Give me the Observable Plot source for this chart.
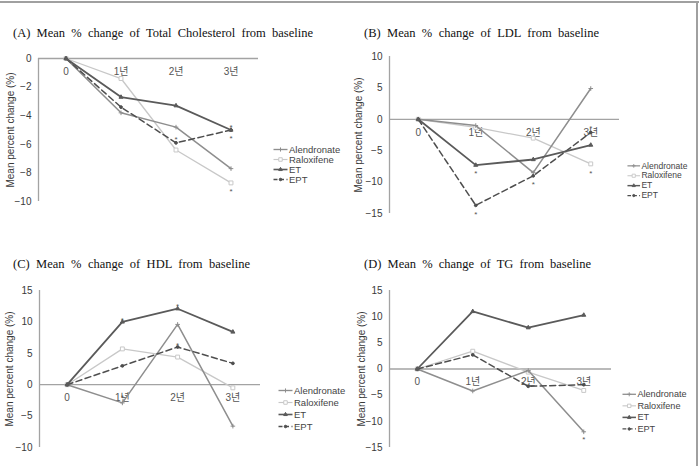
<!DOCTYPE html>
<html>
<head>
<meta charset="utf-8">
<script src="https://cdn.jsdelivr.net/npm/d3@7"></script>
<script src="https://cdn.jsdelivr.net/npm/@observablehq/plot@0.6"></script>
<style>
  body { margin: 0; background: #fff; }
  #fig { position: relative; width: 699px; height: 466px; overflow: hidden; background: #fff;
         font-family: "Liberation Sans", Arial, "Noto Sans CJK KR", sans-serif; }
  .edge-top { position: absolute; left: 0; top: 1px; width: 699px; height: 2px; background: #a0a0a0; }
  .edge-right { position: absolute; left: 696px; top: 1px; width: 2px; height: 465px; background: #a0a0a0; }
  .title { position: absolute; font-family: "Liberation Serif", "Times New Roman", serif; font-size: 12.5px;
           line-height: 13px; color: #111; white-space: nowrap; }
  .box { position: absolute; }
  .box svg { overflow: visible; }
</style>
</head>
<body>
<div id="fig"><div class="edge-top"></div><div class="edge-right"></div></div>
<script>
// Time points and their tick labels
const years = [0, 1, 2, 3];
const yearLabels = ["0", "1년", "2년", "3년"];
const groups = ["Alendronate", "Raloxifene", "ET", "EPT"];

// (A) Total cholesterol, mean % change from baseline
const tcAlendronate = [0, -3.8, -4.8, -7.7];
const tcRaloxifene  = [0, -1.4, -6.4, -8.7];
const tcET          = [0, -2.7, -3.3, -5.0];
const tcEPT         = [0, -3.4, -5.9, -5.0];
const tcStarYear    = [2, 3, 3, 3];
const tcStarValue   = [-5.55, -4.7, -5.45, -9.15];
const tcTicks       = [0, -2, -4, -6, -8, -10];

// (B) LDL
const ldlAlendronate = [0, -1.0, -8.5, 4.9];
const ldlRaloxifene  = [0, -1.3, -3.0, -7.1];
const ldlET          = [0, -7.3, -6.4, -4.1];
const ldlEPT         = [0, -13.7, -9.0, -2.1];
const ldlStarYear    = [1, 1, 2, 3, 3];
const ldlStarValue   = [-8.3, -14.8, -10.1, -8.3, -1.2];
const ldlTicks       = [10, 5, 0, -5, -10, -15];

// (C) HDL
const hdlAlendronate = [0, -2.9, 9.6, -6.6];
const hdlRaloxifene  = [0, 5.7, 4.4, -0.5];
const hdlET          = [0, 10.0, 12.1, 8.4];
const hdlEPT         = [0, 3.0, 6.0, 3.4];
const hdlStarYear    = [1, 2, 2, 1];
const hdlStarValue   = [10.6, 12.8, 6.6, -1.7];
const hdlTicks       = [15, 10, 5, 0, -5, -10];

// (D) Triglycerides
const tgAlendronate = [0, -4.2, -0.3, -12.0];
const tgRaloxifene  = [0, 3.4, -0.6, -4.1];
const tgET          = [0, 11.0, 7.9, 10.3];
const tgEPT         = [0, 2.7, -3.3, -3.0];
const tgStarYear    = [3];
const tgStarValue   = [-13.1];
const tgTicks       = [15, 10, 5, 0, -5, -10, -15];

// Line / marker styling per group
const styles = {
  Alendronate: {stroke: "#8e8e8e", width: 1.5, dash: null, symbol: "plus", fill: "none", r: 1.6},
  Raloxifene:  {stroke: "#c8c8c8", width: 1.3, dash: null, symbol: "square", fill: "#fff", r: 2.2},
  ET:          {stroke: "#5a5a5a", width: 1.8, dash: null, symbol: "triangle", fill: "#5a5a5a", r: 1.5},
  EPT:         {stroke: "#4e4e4e", width: 1.5, dash: "6,3.5", symbol: "circle", fill: "#4e4e4e", r: 1.4}
};
const drawOrder = ["Raloxifene", "Alendronate", "EPT", "ET"];

const panels = [
  {title: "(A) Mean % change of Total Cholesterol from baseline", tLeft: 13, tTop: 27, tWidth: 300,
   series: [tcAlendronate, tcRaloxifene, tcET, tcEPT], starYear: tcStarYear, starValue: tcStarValue,
   ticks: tcTicks, domain: [-10, 0],
   left: 0, top: 48, width: 262, height: 159, mLeft: 38, mTop: 10, mBottom: 6, labelOffset: 32,
   legLeft: 273, legFirst: 148.3, legGap: 10.6},
  {title: "(B) Mean % change of LDL from baseline", tLeft: 364, tTop: 27, tWidth: 235,
   series: [ldlAlendronate, ldlRaloxifene, ldlET, ldlEPT], starYear: ldlStarYear, starValue: ldlStarValue,
   ticks: ldlTicks, domain: [-15, 10],
   left: 349, top: 46, width: 274, height: 173, mLeft: 40, mTop: 10, mBottom: 6, labelOffset: 35,
   legLeft: 627, legFirst: 165, legGap: 11.9},
  {title: "(C) Mean % change of HDL from baseline", tLeft: 13, tTop: 258, tWidth: 237,
   series: [hdlAlendronate, hdlRaloxifene, hdlET, hdlEPT], starYear: hdlStarYear, starValue: hdlStarValue,
   ticks: hdlTicks, domain: [-10, 15],
   left: 0, top: 280, width: 264, height: 173, mLeft: 39, mTop: 10, mBottom: 6, labelOffset: 34,
   legLeft: 278, legFirst: 390, legGap: 12},
  {title: "(D) Mean % change of TG from baseline", tLeft: 364, tTop: 258, tWidth: 227,
   series: [tgAlendronate, tgRaloxifene, tgET, tgEPT], starYear: tgStarYear, starValue: tgStarValue,
   ticks: tgTicks, domain: [-15, 15],
   left: 349, top: 280, width: 266, height: 173, mLeft: 40, mTop: 10, mBottom: 6, labelOffset: 32,
   legLeft: 622, legFirst: 393.7, legGap: 12.1}
];

const fig = document.getElementById("fig");

function place(node, left, top) {
  const box = document.createElement("div");
  box.className = "box";
  box.style.left = left + "px";
  box.style.top = top + "px";
  box.appendChild(node);
  fig.appendChild(box);
  return box;
}

function addTitle(p) {
  const d = document.createElement("div");
  d.className = "title";
  d.textContent = p.title;
  d.style.left = p.tLeft + "px";
  d.style.top = p.tTop + "px";
  fig.appendChild(d);
  // spread words across the title's line width
  const natural = d.getBoundingClientRect().width;
  const spaces = (p.title.match(/ /g) || []).length;
  d.style.wordSpacing = Math.max(0, (p.tWidth - natural) / spaces) + "px";
}

function chart(p) {
  const rows = [];
  groups.forEach((g, gi) => p.series[gi].forEach((v, t) => rows.push({g, t: years[t], v})));
  const stars = p.starYear.map((t, i) => ({t, v: p.starValue[i]}));
  const marks = [
    Plot.ruleY([0], {stroke: "#a3a3a3", strokeWidth: 1.3}),
    Plot.ruleX([-0.5], {stroke: "#a3a3a3", strokeWidth: 1.3}),
    Plot.axisY({ticks: p.ticks, tickSize: 0, tickPadding: 7, fontSize: 10, fill: "#3a3a3a",
                label: "Mean percent change (%)", labelAnchor: "center", labelArrow: "none",
                labelOffset: p.labelOffset}),
    Plot.text(years, {x: d => d, y: () => 0, text: (d, i) => yearLabels[i], dy: 13,
                      fontSize: 10, fill: "#555",
                      fontFamily: "'Liberation Sans', 'Noto Sans CJK KR', sans-serif"})
  ];
  for (const g of drawOrder) {
    const s = styles[g];
    const data = rows.filter(r => r.g === g);
    marks.push(Plot.line(data, {x: "t", y: "v", stroke: s.stroke, strokeWidth: s.width,
                                strokeDasharray: s.dash}));
    marks.push(Plot.dot(data, {x: "t", y: "v", symbol: () => s.symbol, r: s.r, stroke: s.stroke,
                               fill: s.fill, strokeWidth: 1}));
  }
  marks.push(Plot.text(stars, {x: "t", y: "v", text: () => "*", fontSize: 8, fill: "#555", dy: 2}));
  return Plot.plot({
    width: p.width, height: p.height,
    marginLeft: p.mLeft, marginRight: 4, marginTop: p.mTop, marginBottom: p.mBottom,
    x: {domain: [-0.5, 3.5], axis: null},
    y: {domain: p.domain, axis: null},
    symbol: {type: "identity"},
    style: {fontFamily: "'Liberation Sans', Arial, sans-serif", fontSize: "10px", background: "none"},
    marks
  });
}

function legend(p) {
  const marks = [];
  for (const g of groups) {
    const s = styles[g];
    marks.push(Plot.link([g], {x1: () => 0, x2: () => 1, y1: d => d, y2: d => d,
                               stroke: s.stroke, strokeWidth: s.width * 0.9,
                               strokeDasharray: g === "EPT" ? "4,2.5" : null}));
    marks.push(Plot.dot([g], {x: () => 0.5, y: d => d, symbol: () => s.symbol, r: s.r * 0.9,
                              stroke: s.stroke, fill: s.fill, strokeWidth: 1}));
  }
  marks.push(Plot.text(groups, {x: () => 1, y: d => d, text: d => d, textAnchor: "start", dx: 1.5,
                                fontSize: 9.5, fill: "#444"}));
  return Plot.plot({
    width: 80, height: 3 * p.legGap + 10, margin: 0,
    x: {domain: [0, 1], range: [0, 14], axis: null},
    y: {type: "point", domain: groups, range: [5, 5 + 3 * p.legGap], padding: 0, axis: null},
    symbol: {type: "identity"},
    style: {fontFamily: "'Liberation Sans', Arial, sans-serif", background: "none"},
    marks
  });
}

for (const p of panels) {
  addTitle(p);
  place(chart(p), p.left, p.top);
  place(legend(p), p.legLeft, p.legFirst - 5);
}
</script>
</body>
</html>
